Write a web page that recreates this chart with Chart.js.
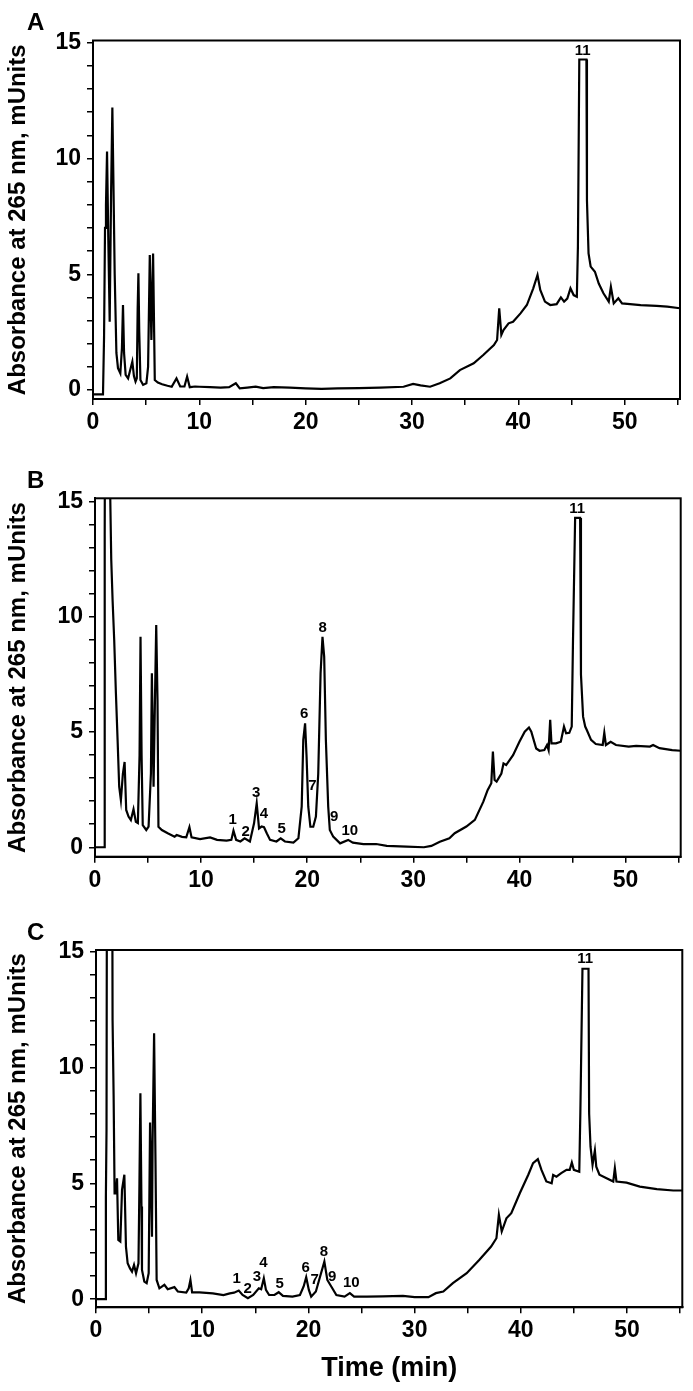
<!DOCTYPE html>
<html><head><meta charset="utf-8">
<script src="https://cdn.jsdelivr.net/npm/chart.js@4.4.0/dist/chart.umd.min.js"></script>
<style>
html,body{margin:0;padding:0;background:#fff;}
#wrap{position:relative;width:693px;height:1391px;overflow:hidden;background:#fff;}
canvas{position:absolute;left:0;}
</style></head><body>
<div id="wrap">
<canvas id="cA" width="693" height="445" style="top:0px"></canvas>
<canvas id="cB" width="693" height="445" style="top:445px"></canvas>
<canvas id="cC" width="693" height="501" style="top:890px"></canvas>
</div>
<script>
// ---------- Panel A trace ----------
const timeA = [0, 0.94, 1.04, 1.13, 1.22, 1.32, 1.44, 1.57, 1.7, 1.82,
  1.92, 2.04, 2.2, 2.35, 2.57, 2.72, 2.82, 2.92, 3.07, 3.3,
  3.5, 3.7, 3.85, 4.0, 4.12, 4.2, 4.27, 4.35, 4.46, 4.71,
  5.02, 5.18, 5.34, 5.49, 5.65, 5.81, 6.1, 6.5, 7.0, 7.4,
  7.85, 8.2, 8.6, 8.85, 9.1, 9.6, 10.0, 11.0, 12.0, 12.8,
  13.43, 13.8, 14.5, 15.3, 16.0, 17.0, 18.5, 20.0, 21.5, 23.0,
  25.0, 27.0, 29.2, 30.1, 30.8, 31.7, 32.6, 33.6, 34.5, 35.8,
  36.7, 37.7, 38.0, 38.2, 38.4, 38.6, 39.08, 39.5, 40.2, 40.8,
  41.4, 41.8, 42.06, 42.5, 43.0, 43.6, 44.0, 44.3, 44.6, 44.9,
  45.2, 45.5, 45.6, 45.73, 46.4, 46.45, 46.6, 46.8, 47.2, 47.56,
  48.0, 48.5, 48.7, 48.97, 49.4, 49.75, 50.5, 51.5, 53.0, 54.0,
  55.2];
const absA = [-0.19, -0.19, 2.3, 7.0, 8.0, 10.3, 6.5, 2.95, 8.5, 12.2,
  9.0, 5.0, 1.6, 0.94, 0.72, 1.8, 3.67, 1.6, 0.65, 0.5,
  0.86, 1.22, 0.6, 0.36, 0.5, 3.5, 5.04, 2.5, 0.43, 0.22,
  0.29, 1.0, 5.83, 2.16, 5.9, 0.43, 0.32, 0.25, 0.18, 0.14,
  0.5, 0.15, 0.15, 0.58, 0.12, 0.15, 0.14, 0.12, 0.1, 0.12,
  0.29, 0.07, 0.1, 0.14, 0.08, 0.12, 0.1, 0.07, 0.05, 0.07,
  0.08, 0.1, 0.14, 0.26, 0.2, 0.14, 0.29, 0.5, 0.86, 1.15,
  1.51, 1.94, 2.16, 3.53, 2.38, 2.59, 2.88, 2.95, 3.31, 3.67,
  4.39, 4.97, 4.32, 3.82, 3.67, 3.71, 4.0, 3.82, 3.95, 4.39,
  4.1, 4.03, 6.19, 14.28, 14.28, 8.2, 5.9, 5.33, 5.11, 4.6,
  4.18, 3.82, 4.46, 3.74, 3.96, 3.74, 3.71, 3.67, 3.63, 3.6,
  3.53];

// ---------- Panel B trace ----------
const timeB = [0, 0.87, 0.9, 0.93, 0.97, 1.4, 1.44, 1.53, 1.66, 1.81,
  1.97, 2.13, 2.28, 2.44, 2.63, 2.79, 2.94, 3.16, 3.38, 3.63,
  3.85, 4.04, 4.2, 4.29, 4.39, 4.5, 4.83, 5.05, 5.27, 5.36,
  5.52, 5.64, 5.77, 5.89, 5.98, 6.3, 6.9, 7.5, 7.7, 8.2,
  8.6, 8.9, 9.1, 9.9, 10.85, 11.5, 12.4, 12.85, 13.05, 13.3,
  13.7, 14.1, 14.6, 14.99, 15.24, 15.46, 15.7, 15.93, 16.2, 16.5,
  17.1, 17.5, 17.9, 18.7, 19.17, 19.48, 19.63, 19.8, 19.94, 20.1,
  20.3, 20.57, 20.82, 21.04, 21.26, 21.44, 21.6, 21.76, 21.98, 22.13,
  22.45, 23.1, 23.86, 24.3, 25.3, 26.5, 27.5, 29.35, 31.0, 31.7,
  32.5, 33.4, 33.9, 35.0, 35.8, 36.6, 37.0, 37.35, 37.5, 37.66,
  37.85, 38.3, 38.5, 38.75, 39.4, 40.0, 40.5, 40.9, 41.12, 41.58,
  41.9, 42.35, 42.6, 42.75, 42.9, 43.02, 43.45, 43.9, 44.2, 44.4,
  44.7, 44.93, 45.05, 45.25, 45.72, 45.8, 46.0, 46.2, 46.35, 46.75,
  47.2, 47.85, 48.0, 48.15, 48.6, 49.1, 50.3, 51.0, 52.3, 52.6,
  53.2, 54.4, 55.2];
const absB = [0, 0, 3, 13.5, 25, 25, 15.1, 12.5, 10.7, 9.0,
  6.7, 4.65, 2.63, 2.05, 3.2, 3.7, 1.62, 1.33, 1.18, 1.65,
  1.1, 1.05, 4.0, 9.14, 4.0, 0.96, 0.75, 0.9, 3.2, 7.55,
  2.63, 6.1, 9.65, 6.4, 0.89, 0.75, 0.6, 0.46, 0.53, 0.45,
  0.43, 0.87, 0.43, 0.35, 0.43, 0.32, 0.29, 0.32, 0.72, 0.32,
  0.25, 0.39, 0.25, 1.04, 1.91, 0.82, 0.9, 0.87, 0.6, 0.32,
  0.25, 0.39, 0.25, 0.2, 0.39, 1.76, 4.66, 5.38, 3.93, 1.76,
  0.89, 0.89, 1.33, 3.2, 7.55, 9.14, 8.27, 4.65, 1.76, 0.75,
  0.46, 0.17, 0.32, 0.2, 0.14, 0.14, 0.06, 0.03, 0.0, 0.06,
  0.24, 0.39, 0.61, 0.9, 1.19, 1.98, 2.48, 2.78, 4.15, 2.92,
  2.85, 3.2, 3.64, 3.57, 4.0, 4.58, 5.02, 5.2, 5.02, 4.29,
  4.19, 4.22, 4.44, 4.22, 5.53, 4.51, 4.51, 4.58, 5.24, 4.95,
  4.97, 5.24, 9.0, 14.3, 14.3, 7.5, 5.67, 5.24, 5.09, 4.66,
  4.48, 4.44, 4.97, 4.44, 4.58, 4.44, 4.37, 4.4, 4.37, 4.44,
  4.3, 4.22, 4.19];

// ---------- Panel C trace ----------
const timeC = [0, 0.87, 0.93, 0.99, 1.05, 1.5, 1.56, 1.66, 1.75, 1.87,
  1.98, 2.1, 2.29, 2.45, 2.67, 2.82, 2.98, 3.2, 3.39, 3.58,
  3.77, 4.0, 4.09, 4.18, 4.28, 4.33, 4.55, 4.77, 4.96, 5.09,
  5.18, 5.27, 5.33, 5.47, 5.6, 5.71, 5.97, 6.44, 6.75, 7.38,
  7.7, 8.5, 8.73, 8.89, 9.05, 9.74, 11.0, 12.0, 12.6, 13.0,
  13.44, 13.8, 14.3, 14.8, 15.33, 15.55, 15.8, 16.0, 16.3, 16.8,
  17.2, 17.6, 18.5, 19.2, 19.55, 19.79, 20.04, 20.26, 20.7, 21.1,
  21.5, 21.78, 22.15, 22.63, 23.4, 23.9, 24.3, 25.5, 27.0, 28.9,
  30.0, 31.3, 32.0, 32.7, 33.6, 34.9, 36.1, 37.2, 37.7, 37.93,
  38.2, 38.64, 39.1, 39.9, 40.7, 41.15, 41.6, 41.94, 42.4, 42.9,
  43.04, 43.35, 43.8, 44.3, 44.6, 44.8, 44.99, 45.5, 45.6, 45.8,
  46.37, 46.43, 46.56, 46.75, 46.97, 47.1, 47.4, 48.07, 48.7, 48.85,
  49.0, 49.95, 51.2, 52.8, 54.35, 55.2];
const absC = [0, 0, 4.4, 7.3, 25, 25, 12.05, 8.74, 4.57, 4.57,
  5.22, 2.56, 2.49, 4.72, 5.37, 2.27, 1.55, 1.33, 1.19, 1.48,
  1.12, 1.55, 5.0, 8.89, 4.0, 1.26, 0.76, 0.69, 1.12, 7.63,
  5.15, 2.7, 6.88, 11.48, 6.01, 0.83, 0.47, 0.62, 0.43, 0.52,
  0.33, 0.29, 0.47, 0.83, 0.29, 0.29, 0.25, 0.18, 0.25, 0.28,
  0.37, 0.18, 0.04, 0.18, 0.47, 0.43, 0.9, 0.4, 0.18, 0.18,
  0.3, 0.14, 0.11, 0.18, 0.55, 0.95, 0.4, 0.11, 0.33, 0.98,
  1.62, 0.83, 0.55, 0.18, 0.11, 0.26, 0.11, 0.11, 0.12, 0.14,
  0.09, 0.09, 0.26, 0.33, 0.69, 1.12, 1.7, 2.27, 2.63, 3.64,
  2.92, 3.49, 3.71, 4.57, 5.37, 5.87, 6.04, 5.58, 5.08, 5.0,
  5.36, 5.29, 5.44, 5.58, 5.58, 5.9, 5.58, 5.5, 8.0, 14.26,
  14.26, 8.0, 6.58, 5.8, 6.42, 5.72, 5.37, 5.22, 5.08, 5.65,
  5.08, 5.03, 4.86, 4.75, 4.69, 4.69];

// ---------- Peak labels ----------
const peakTextA = ['11'];
const peakTimeA = [46.05];
const peakAbsA  = [14.66];

const peakTextB = ['1','2','3','4','5','6','7','8','9','10','11'];
const peakTimeB = [12.98, 14.2, 15.2, 15.93, 17.6, 19.72, 20.5, 21.45, 22.54, 24.02, 45.45];
const peakAbsB  = [1.21, 0.68, 2.34, 1.45, 0.82, 5.78, 2.67, 9.53, 1.30, 0.72, 14.71];

const peakTextC = ['1','2','3','4','5','6','7','8','9','10','11'];
const peakTimeC = [13.25, 14.29, 15.14, 15.77, 17.3, 19.73, 20.58, 21.45, 22.24, 24.03, 46.05];
const peakAbsC  = [0.88, 0.44, 0.98, 1.58, 0.66, 1.34, 0.83, 2.05, 0.98, 0.69, 14.69];

// ---------- Axes ----------
const yTickValues = [0,1,2,3,4,5,6,7,8,9,10,11,12,13,14,15];
const yTickLabels = [0,5,10,15];
const xTickValues = [0,5,10,15,20,25,30,35,40,45,50,55];
const xTickLabels = [0,10,20,30,40,50];
const yTitle = 'Absorbance at 265 nm, mUnits';
const xTitle = 'Time (min)';
const panelLetters = ['A','B','C'];

const FONT = '"Liberation Sans", Arial, Helvetica, sans-serif';

const framePlugin = {
  id: 'frame',
  afterDatasetsDraw(chart, args, o) {
    const {ctx, chartArea: a, scales} = chart;
    ctx.save();
    ctx.strokeStyle = '#000';
    ctx.lineWidth = 2;
    ctx.strokeRect(a.left, a.top, a.right - a.left, a.bottom - a.top);
    ctx.fillStyle = '#000';
    ctx.font = 'bold 15px ' + FONT;
    ctx.textAlign = 'center';
    ctx.textBaseline = 'middle';
    o.text.forEach((t, i) => {
      ctx.fillText(t, scales.x.getPixelForValue(o.time[i]), scales.y.getPixelForValue(o.abs[i]));
    });
    ctx.font = 'bold 24px ' + FONT;
    ctx.textAlign = 'left';
    ctx.textBaseline = 'alphabetic';
    ctx.fillText(o.letter, o.letterX, o.letterY);
    ctx.restore();
  }
};

function makePanel(id, times, values, peaks, geo) {
  const data = times.map((t, i) => ({x: t, y: values[i]}));
  return new Chart(document.getElementById(id), {
    type: 'line',
    data: { datasets: [{ data, borderColor: '#000', borderWidth: 2.2, pointRadius: 0,
      tension: 0, fill: false, parsing: false }] },
    plugins: [framePlugin],
    options: {
      responsive: false, animation: false, devicePixelRatio: 1,
      layout: { padding: { left: 0, top: geo.top, right: geo.right, bottom: 0 } },
      plugins: { legend: { display: false }, tooltip: { enabled: false },
        frame: { text: peaks[0], time: peaks[1], abs: peaks[2],
          letter: geo.letter, letterX: 27, letterY: geo.letterY } },
      scales: {
        x: {
          type: 'linear', min: 0, max: 55.2,
          afterFit: s => { s.height = geo.xh; },
          afterBuildTicks: s => { s.ticks = xTickValues.map(v => ({value: v})); },
          ticks: { autoSkip: false, maxRotation: 0, padding: 4, color: '#000',
            font: { family: FONT, size: 23, weight: 'bold' },
            callback: v => xTickLabels.includes(v) ? String(v) : '' },
          grid: { drawOnChartArea: false, drawTicks: true, tickLength: 6, color: '#000', lineWidth: 1.5 },
          border: { display: true, color: '#000', width: 2 },
          title: { display: !!geo.xTitle, text: xTitle, color: '#000',
            font: { family: FONT, size: 27, weight: 'bold' }, padding: { top: 0, bottom: 6 } }
        },
        y: {
          type: 'linear', min: geo.ymin, max: geo.ymax,
          afterFit: s => { s.width = geo.left; },
          afterBuildTicks: s => { s.ticks = yTickValues.map(v => ({value: v})); },
          ticks: { autoSkip: false, padding: 6, color: '#000',
            font: { family: FONT, size: 23, weight: 'bold' },
            callback: v => yTickLabels.includes(v) ? String(v) : '' },
          grid: { drawOnChartArea: false, drawTicks: true, tickLength: 6, color: '#000', lineWidth: 1.5 },
          border: { display: true, color: '#000', width: 2 },
          title: { display: true, text: yTitle, color: '#000',
            font: { family: FONT, size: 24, weight: 'bold' }, padding: { top: 4, bottom: 0 } }
        }
      }
    }
  });
}

makePanel('cA', timeA, absA, [peakTextA, peakTimeA, peakAbsA],
  { top: 40.5, right: 13, left: 93, xh: 46, ymin: -0.39, ymax: 15.1, letter: panelLetters[0], letterY: 30 });
makePanel('cB', timeB, absB, [peakTextB, peakTimeB, peakAbsB],
  { top: 53.3, right: 12.3, left: 95, xh: 33.3, ymin: -0.41, ymax: 15.15, letter: panelLetters[1], letterY: 43 });
makePanel('cC', timeC, absC, [peakTextC, peakTimeC, peakAbsC],
  { top: 60, right: 10.7, left: 96, xh: 83.7, ymin: -0.35, ymax: 15.07, letter: panelLetters[2], letterY: 50, xTitle: true });
</script>
</body></html>
